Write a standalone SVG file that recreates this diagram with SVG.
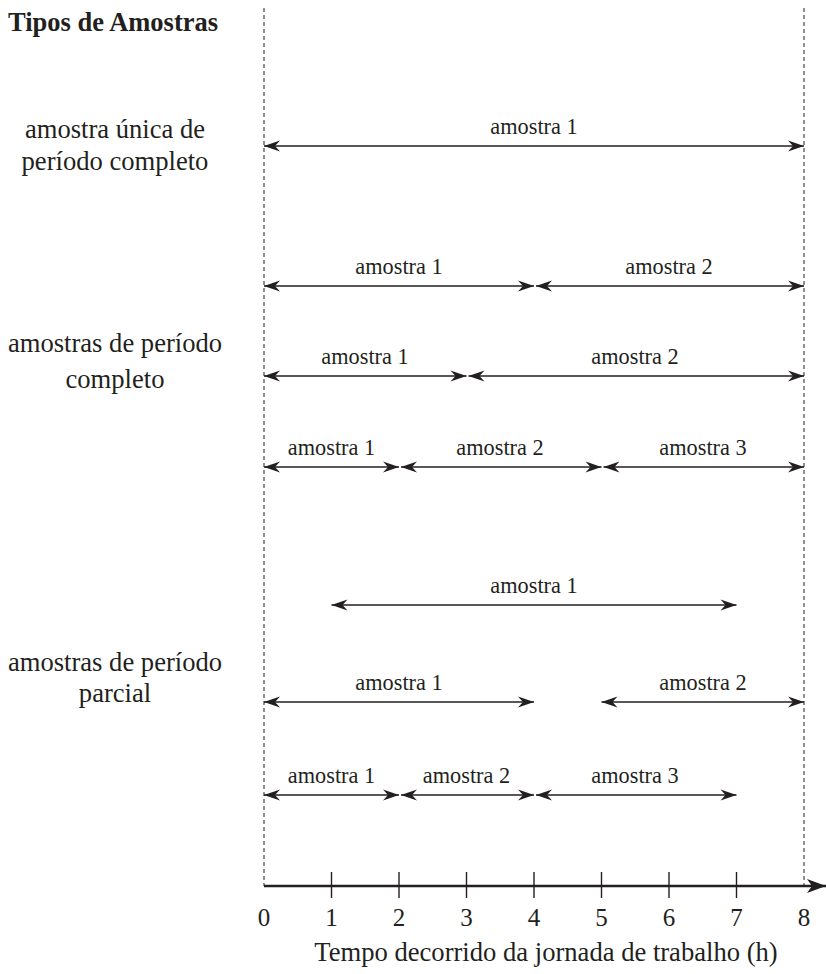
<svg xmlns="http://www.w3.org/2000/svg" width="826" height="974" viewBox="0 0 826 974">
<style>
text{font-family:"Liberation Serif","Times New Roman",serif;fill:#231f20;}
.lbl{font-size:22.3px;text-anchor:middle;}
.side{font-size:26.6px;text-anchor:middle;}
.tick{font-size:25px;text-anchor:middle;}
.title{font-size:26.5px;font-weight:bold;}
.arr{stroke:#231f20;stroke-width:1.4;fill:none;marker-start:url(#ah);marker-end:url(#ah);}
.guide{stroke:#231f20;stroke-width:1;stroke-dasharray:4,3;fill:none;}
.axis{stroke:#231f20;stroke-width:2.6;fill:none;}
.tk{stroke:#231f20;stroke-width:1.4;}
</style>
<defs>
<marker id="ah" viewBox="-17 -6 18 12" refX="0" refY="0" markerWidth="18" markerHeight="12" markerUnits="userSpaceOnUse" orient="auto-start-reverse">
<path d="M0,0 L-16,-5.5 L-11,0 L-16,5.5 Z" fill="#231f20"/>
</marker>
<marker id="axh" viewBox="-20 -8 21 16" refX="0" refY="0" markerWidth="21" markerHeight="16" markerUnits="userSpaceOnUse" orient="auto">
<path d="M0,0 L-19,-7 L-14,0 L-19,7 Z" fill="#231f20"/>
</marker>
</defs>
<g id="title"><text class="title" x="8" y="31">Tipos de Amostras</text></g>
<g id="guides">
<line class="guide" x1="264" y1="8" x2="264" y2="886"/>
<line class="guide" x1="804" y1="8" x2="804" y2="886"/>
</g>
<g id="side-labels">
<text class="side" x="115" y="138">amostra única de</text>
<text class="side" x="115" y="170">período completo</text>
<text class="side" x="115" y="352">amostras de período</text>
<text class="side" x="115" y="388">completo</text>
<text class="side" x="115" y="671">amostras de período</text>
<text class="side" x="115" y="702">parcial</text>
</g>
<g id="connectors">
<line class="arr" x1="264" y1="146" x2="804" y2="146"/>
<line class="arr" x1="264" y1="286" x2="534" y2="286"/>
<line class="arr" x1="536" y1="286" x2="804" y2="286"/>
<line class="arr" x1="264" y1="376" x2="466.5" y2="376"/>
<line class="arr" x1="468.5" y1="376" x2="804" y2="376"/>
<line class="arr" x1="264" y1="467" x2="399" y2="467"/>
<line class="arr" x1="401" y1="467" x2="601.5" y2="467"/>
<line class="arr" x1="603.5" y1="467" x2="804" y2="467"/>
<line class="arr" x1="331.5" y1="605" x2="736.5" y2="605"/>
<line class="arr" x1="264" y1="702" x2="534" y2="702"/>
<line class="arr" x1="601.5" y1="702" x2="804" y2="702"/>
<line class="arr" x1="264" y1="795" x2="399" y2="795"/>
<line class="arr" x1="401" y1="795" x2="534" y2="795"/>
<line class="arr" x1="536" y1="795" x2="736.5" y2="795"/>
</g>
<g id="sample-labels">
<text class="lbl" x="534" y="134">amostra 1</text>
<text class="lbl" x="399" y="274">amostra 1</text>
<text class="lbl" x="669" y="274">amostra 2</text>
<text class="lbl" x="365" y="364">amostra 1</text>
<text class="lbl" x="635" y="364">amostra 2</text>
<text class="lbl" x="331.5" y="455">amostra 1</text>
<text class="lbl" x="500" y="455">amostra 2</text>
<text class="lbl" x="703" y="455">amostra 3</text>
<text class="lbl" x="534" y="593">amostra 1</text>
<text class="lbl" x="399" y="690">amostra 1</text>
<text class="lbl" x="703" y="690">amostra 2</text>
<text class="lbl" x="331.5" y="783">amostra 1</text>
<text class="lbl" x="466.5" y="783">amostra 2</text>
<text class="lbl" x="635" y="783">amostra 3</text>
</g>
<g id="axis">
<line class="axis" x1="264" y1="886" x2="826" y2="886" marker-end="url(#axh)"/>
<line class="tk" x1="331.5" y1="872" x2="331.5" y2="898"/>
<line class="tk" x1="399" y1="872" x2="399" y2="898"/>
<line class="tk" x1="466.5" y1="872" x2="466.5" y2="898"/>
<line class="tk" x1="534" y1="872" x2="534" y2="898"/>
<line class="tk" x1="601.5" y1="872" x2="601.5" y2="898"/>
<line class="tk" x1="669" y1="872" x2="669" y2="898"/>
<line class="tk" x1="736.5" y1="872" x2="736.5" y2="898"/>
<text class="tick" x="264" y="926">0</text>
<text class="tick" x="331.5" y="926">1</text>
<text class="tick" x="399" y="926">2</text>
<text class="tick" x="466.5" y="926">3</text>
<text class="tick" x="534" y="926">4</text>
<text class="tick" x="601.5" y="926">5</text>
<text class="tick" x="669" y="926">6</text>
<text class="tick" x="736.5" y="926">7</text>
<text class="tick" x="804" y="926">8</text>
<text class="side" x="546" y="961">Tempo decorrido da jornada de trabalho (h)</text>
</g>
</svg>
